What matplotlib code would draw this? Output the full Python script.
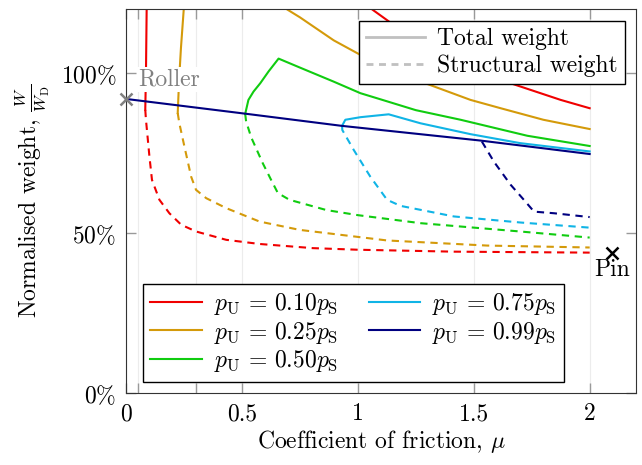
import matplotlib
matplotlib.use("Agg")
import matplotlib.pyplot as plt

plt.rcParams["font.family"] = ["cmr10", "DejaVu Serif"]
plt.rcParams["mathtext.fontset"] = "cm"
plt.rcParams["axes.formatter.use_mathtext"] = True
plt.rcParams["font.size"] = 17

# ratio p_U / p_S for each series
ratios = ["0.10", "0.25", "0.50", "0.75", "0.99"]
colors = ["#f00000", "#d49a0a", "#10cc10", "#10b4e6", "#000080"]

# total weight (mu, W/W_D); points above 120% are off the plot
red_tot_mu = [0.083, 0.086, 0.089, 0.095, 0.80, 1.061, 1.155, 1.30, 1.45, 1.659, 1.875, 2.0]
red_tot_w = [0.886, 1.00, 1.20, 1.50, 1.40, 1.20, 1.151, 1.09, 1.035, 0.969, 0.917, 0.891]
orange_tot_mu = [0.223, 0.229, 0.237, 0.249, 0.26, 0.60, 0.694, 0.75, 0.896, 1.01, 1.25, 1.486, 1.616, 1.80, 2.0]
orange_tot_w = [0.876, 0.98, 1.08, 1.20, 1.40, 1.35, 1.20, 1.175, 1.103, 1.058, 0.98, 0.917, 0.891, 0.855, 0.826]
green_tot_mu = [0.514, 0.528, 0.55, 0.579, 0.615, 0.658, 0.75, 0.896, 1.011, 1.097, 1.25, 1.443, 1.731, 2.0]
green_tot_w = [0.873, 0.917, 0.943, 0.969, 1.006, 1.046, 1.018, 0.974, 0.938, 0.919, 0.885, 0.855, 0.805, 0.773]
cyan_tot_mu = [0.932, 0.946, 1.011, 1.133, 1.27, 1.486, 1.70, 2.0]
cyan_tot_w = [0.836, 0.855, 0.863, 0.872, 0.844, 0.81, 0.782, 0.756]
navy_tot_mu = [0.0, 0.514, 0.93, 1.529, 2.0]
navy_tot_w = [0.92, 0.874, 0.836, 0.79, 0.748]

# structural weight
red_str_mu = [0.083, 0.086, 0.101, 0.112, 0.144, 0.187, 0.238, 0.302, 0.432, 0.576, 0.806, 1.0, 1.414, 2.0]
red_str_w = [0.886, 0.855, 0.74, 0.667, 0.605, 0.563, 0.527, 0.506, 0.48, 0.467, 0.454, 0.449, 0.443, 0.44]
orange_str_mu = [0.223, 0.23, 0.252, 0.281, 0.302, 0.346, 0.432, 0.576, 0.749, 0.864, 1.126, 1.558, 2.0]
orange_str_w = [0.876, 0.844, 0.771, 0.677, 0.636, 0.61, 0.579, 0.537, 0.511, 0.501, 0.478, 0.462, 0.456]
green_str_mu = [0.514, 0.518, 0.54, 0.59, 0.626, 0.655, 0.705, 0.864, 1.0, 1.27, 1.70, 2.0]
green_str_w = [0.873, 0.85, 0.80, 0.719, 0.667, 0.626, 0.605, 0.573, 0.557, 0.532, 0.506, 0.487]
cyan_str_mu = [0.932, 0.933, 0.982, 1.054, 1.126, 1.184, 1.414, 1.702, 2.0]
cyan_str_w = [0.836, 0.823, 0.761, 0.677, 0.605, 0.586, 0.553, 0.534, 0.518]
navy_str_mu = [1.535, 1.587, 1.659, 1.716, 1.76, 1.846, 2.0]
navy_str_w = [0.787, 0.724, 0.652, 0.605, 0.568, 0.563, 0.551]

total = [(red_tot_mu, red_tot_w), (orange_tot_mu, orange_tot_w), (green_tot_mu, green_tot_w),
         (cyan_tot_mu, cyan_tot_w), (navy_tot_mu, navy_tot_w)]
structural = [(red_str_mu, red_str_w), (orange_str_mu, orange_str_w), (green_str_mu, green_str_w),
              (cyan_str_mu, cyan_str_w), (navy_str_mu, navy_str_w)]

roller = (0.0, 0.92)
pin = (2.098, 0.438)

fig = plt.figure(figsize=(6.42, 4.65), dpi=100)
ax = fig.add_axes([0.1963, 0.1538, 0.7944, 0.8262])

handles = []
for (mu, w), (smu, sw), c, r in zip(total, structural, colors, ratios):
    ax.plot(smu, sw, color=c, lw=1.5, dashes=(3.5, 2.7))
    h, = ax.plot(mu, w, color=c, lw=1.5, label=rf"$p_\mathrm{{U}}\,=\,{r}p_\mathrm{{S}}$")
    handles.append(h)

ax.plot(*roller, marker="x", ms=8, mew=1.8, color="#808080", clip_on=False, zorder=5)
ax.text(0.052, 0.98, "Roller", color="#808080", ha="left", va="center",
        bbox=dict(fc="white", ec="none", pad=1))
ax.plot(*pin, marker="x", ms=8, mew=1.8, color="black", clip_on=False, zorder=5)
ax.text(pin[0], 0.385, "Pin", ha="center", va="center",
        bbox=dict(fc="white", ec="none", pad=1))

ax.set_xlim(0, 2.2)
ax.set_ylim(0, 1.2)
ax.set_xticks([0, 0.05, 0.3, 0.5, 1, 1.5, 2])
ax.set_xticklabels(["0", "", "", "0.5", "1", "1.5", "2"])
ax.set_yticks([0, 0.5, 1.0])
ax.set_yticklabels([r"$0\%$", r"$50\%$", r"$100\%$"])
ax.tick_params(direction="in", length=7, width=1, color="#999999", top=True, right=True, pad=7)
ax.grid(axis="x", color="#ececec", lw=0.8)
ax.set_axisbelow(True)
for s in ax.spines.values():
    s.set_color("#333333")

ax.set_xlabel(r"Coefficient of friction, $\mu$", labelpad=2)
ax.set_ylabel(r"Normalised weight, $\frac{W}{W_\mathrm{D}}$", labelpad=6)

style = [plt.Line2D([], [], color="#c0c0c0", lw=2),
         plt.Line2D([], [], color="#c0c0c0", lw=2, dashes=(2.5, 2))]
leg1 = ax.legend(style, ["Total weight", "Structural weight"], loc="upper right",
                 bbox_to_anchor=(0.978, 0.97), borderaxespad=0, fancybox=False,
                 edgecolor="black", framealpha=1, handlelength=2.5, borderpad=0.3,
                 labelspacing=0.2, handletextpad=0.5)
leg1.get_frame().set_linewidth(1)
ax.add_artist(leg1)

leg2 = ax.legend(handles=handles, loc="lower left", bbox_to_anchor=(0.033, 0.031),
                 borderaxespad=0, ncol=2, fancybox=False, edgecolor="black",
                 framealpha=1, handlelength=2.2, borderpad=0.3, labelspacing=0.12,
                 handletextpad=0.5, columnspacing=1.3)
leg2.get_frame().set_linewidth(1)

fig.savefig("out.png", dpi=100)
